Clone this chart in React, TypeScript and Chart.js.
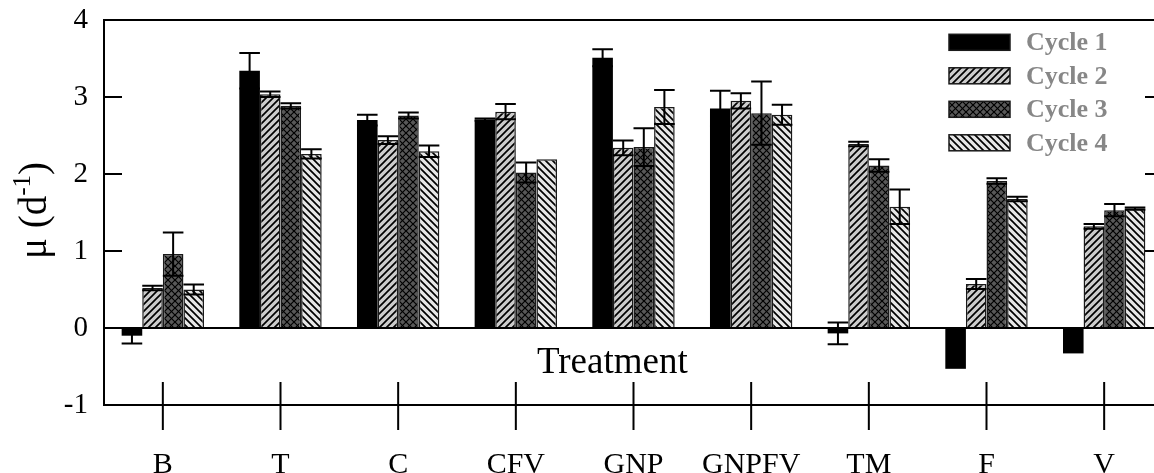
import { useEffect, useRef } from 'react';
import { Chart, registerables } from 'chart.js';

Chart.register(...registerables);

// Specific growth rate per treatment, four culture cycles
const treatments = ['B', 'T', 'C', 'CFV', 'GNP', 'GNPFV', 'TM', 'F', 'V'];
const cycleNames = ['Cycle 1', 'Cycle 2', 'Cycle 3', 'Cycle 4'];

const cycle1 = [-0.1, 3.34, 2.7, 2.705, 3.51, 2.85, -0.07, -0.53, -0.33];
const cycle2 = [0.52, 3.035, 2.44, 2.81, 2.34, 2.95, 2.39, 0.57, 1.32];
const cycle3 = [0.96, 2.885, 2.76, 2.02, 2.35, 2.79, 2.11, 1.91, 1.53];
const cycle4 = [0.5, 2.26, 2.295, 2.19, 2.87, 2.77, 1.575, 1.675, 1.55];

// Standard deviations (symmetric error bars)
const cycle1Err = [0.1, 0.23, 0.07, 0.015, 0.11, 0.23, 0.14, 0, 0];
const cycle2Err = [0.03, 0.035, 0.05, 0.1, 0.095, 0.1, 0.03, 0.065, 0.03];
const cycle3Err = [0.28, 0.035, 0.04, 0.13, 0.245, 0.41, 0.08, 0.035, 0.08];
const cycle4Err = [0.065, 0.06, 0.075, 0, 0.22, 0.13, 0.225, 0.03, 0.015];

const yTicks = [-1, 0, 1, 2, 3, 4];

const SERIF = "'Liberation Serif', 'Times New Roman', Times, serif";

function makePattern(bg: string, dirs: string[], size: number, lw: number) {
  const c = document.createElement('canvas');
  c.width = size;
  c.height = size;
  const g = c.getContext('2d') as CanvasRenderingContext2D;
  g.fillStyle = bg;
  g.fillRect(0, 0, size, size);
  g.strokeStyle = '#000';
  g.lineWidth = lw;
  for (const d of dirs) {
    g.beginPath();
    for (const o of [-size, 0, size]) {
      if (d === '/') {
        g.moveTo(o - 1, size + 1);
        g.lineTo(o + size + 1, -1);
      } else {
        g.moveTo(o - 1, -1);
        g.lineTo(o + size + 1, size + 1);
      }
    }
    g.stroke();
  }
  return g.createPattern(c, 'repeat') as CanvasPattern;
}

export default function App() {
  const canvasRef = useRef<HTMLCanvasElement | null>(null);

  useEffect(() => {
    const canvas = canvasRef.current;
    if (!canvas) return;

    const fills: (string | CanvasPattern)[] = [
      '#000000',
      makePattern('#cccccc', ['/'], 7, 1.7),
      makePattern('#585858', ['/', '\\'], 7, 1.2),
      makePattern('#e6e6e6', ['\\'], 7, 1.7),
    ];
    const series = [cycle1, cycle2, cycle3, cycle4];
    const errors = [cycle1Err, cycle2Err, cycle3Err, cycle4Err];

    const decorations = {
      id: 'decorations',
      afterDatasetsDraw(chart: any) {
        const ctx = chart.ctx as CanvasRenderingContext2D;
        const x = chart.scales.x;
        const y = chart.scales.y;
        const area = chart.chartArea;

        // error bars
        ctx.save();
        ctx.strokeStyle = '#000';
        ctx.lineWidth = 2;
        errors.forEach((errs, di) => {
          const meta = chart.getDatasetMeta(di);
          meta.data.forEach((bar: any, i: number) => {
            const e = errs[i];
            if (!e) return;
            const v = series[di][i];
            const yt = y.getPixelForValue(v + e);
            const yb = y.getPixelForValue(v - e);
            const half = bar.width / 2;
            ctx.beginPath();
            ctx.moveTo(bar.x, yt);
            ctx.lineTo(bar.x, yb);
            ctx.moveTo(bar.x - half, yt);
            ctx.lineTo(bar.x + half, yt);
            ctx.moveTo(bar.x - half, yb);
            ctx.lineTo(bar.x + half, yb);
            ctx.stroke();
          });
        });

        // zero line and frame
        ctx.lineWidth = 2;
        const y0 = y.getPixelForValue(0);
        ctx.beginPath();
        ctx.moveTo(area.left, y0);
        ctx.lineTo(area.right, y0);
        ctx.stroke();
        ctx.strokeRect(area.left, area.top, area.right - area.left, area.bottom - area.top);

        // inward y ticks on both sides
        ctx.beginPath();
        yTicks.forEach((t) => {
          const py = y.getPixelForValue(t);
          ctx.moveTo(area.left, py);
          ctx.lineTo(area.left + 18, py);
          ctx.moveTo(area.right, py);
          ctx.lineTo(area.right - 18, py);
        });
        // x ticks crossing the bottom axis
        treatments.forEach((_, i) => {
          const px = x.getPixelForValue(i);
          ctx.moveTo(px, area.bottom - 23);
          ctx.lineTo(px, area.bottom + 25);
        });
        ctx.stroke();

        // axis titles
        ctx.fillStyle = '#000';
        ctx.font = `37px ${SERIF}`;
        ctx.textAlign = 'center';
        ctx.textBaseline = 'alphabetic';
        ctx.fillText('Treatment', x.getPixelForValue(3.82), y.getPixelForValue(-0.585));

        ctx.translate(46, (area.top + area.bottom) / 2 - 2);
        ctx.rotate(-Math.PI / 2);
        ctx.textAlign = 'left';
        const mainFont = `39px ${SERIF}`;
        const supFont = `25px ${SERIF}`;
        ctx.font = mainFont;
        const w1 = ctx.measureText('\u03bc (d').width;
        const w3 = ctx.measureText(')').width;
        ctx.font = supFont;
        const w2 = ctx.measureText('-1').width;
        let cx = -(w1 + w2 + w3) / 2;
        ctx.font = mainFont;
        ctx.fillText('\u03bc (d', cx, 0);
        cx += w1;
        ctx.font = supFont;
        ctx.fillText('-1', cx, -16);
        cx += w2;
        ctx.font = mainFont;
        ctx.fillText(')', cx, 0);
        ctx.restore();

        // legend
        ctx.save();
        const lx = area.right - 214;
        cycleNames.forEach((name, i) => {
          const cy = area.top + 22.3 + 33.5 * i;
          ctx.fillStyle = fills[i];
          ctx.fillRect(lx, cy - 8, 61, 16);
          ctx.strokeStyle = '#1a1a1a';
          ctx.lineWidth = 1.5;
          ctx.strokeRect(lx, cy - 8, 61, 16);
          ctx.fillStyle = '#878787';
          ctx.font = `bold 26px ${SERIF}`;
          ctx.textAlign = 'left';
          ctx.textBaseline = 'middle';
          ctx.fillText(name, lx + 77, cy + 1);
        });
        ctx.restore();
      },
    };

    const chart = new Chart(canvas, {
      type: 'bar',
      data: {
        labels: treatments,
        datasets: series.map((data, i) => ({
          label: cycleNames[i],
          data,
          backgroundColor: fills[i],
          borderColor: '#1a1a1a',
          borderWidth: i === 0 ? 0 : 1.5,
          categoryPercentage: 0.7,
          barPercentage: 1.0,
        })),
      },
      options: {
        responsive: false,
        devicePixelRatio: 1,
        animation: false,
        layout: { padding: { top: 20, right: 0, left: 0, bottom: 0 } },
        plugins: {
          legend: { display: false },
          tooltip: { enabled: false },
        },
        scales: {
          x: {
            type: 'category',
            offset: true,
            grid: { display: false, drawTicks: false },
            border: { display: false },
            ticks: {
              color: '#000',
              padding: 42,
              maxRotation: 0,
              font: { family: SERIF, size: 30 },
            },
            afterFit: (s: any) => {
              s.height = 68;
              s.paddingLeft = 0;
              s.paddingRight = 0;
            },
          },
          y: {
            min: -1,
            max: 4,
            grid: { display: false, drawTicks: false },
            border: { display: false },
            ticks: {
              stepSize: 1,
              color: '#000',
              padding: 16,
              font: { family: SERIF, size: 29 },
            },
            afterFit: (s: any) => {
              s.width = 104;
              s.paddingTop = 0;
              s.paddingBottom = 0;
            },
          },
        },
      },
      plugins: [decorations],
    });

    return () => chart.destroy();
  }, []);

  return (
    <div
      style={{
        position: 'fixed',
        left: 0,
        top: 0,
        width: 1154,
        height: 473,
        overflow: 'hidden',
        background: '#fff',
      }}
    >
      <canvas ref={canvasRef} width={1163} height={473} style={{ display: 'block' }} />
    </div>
  );
}
